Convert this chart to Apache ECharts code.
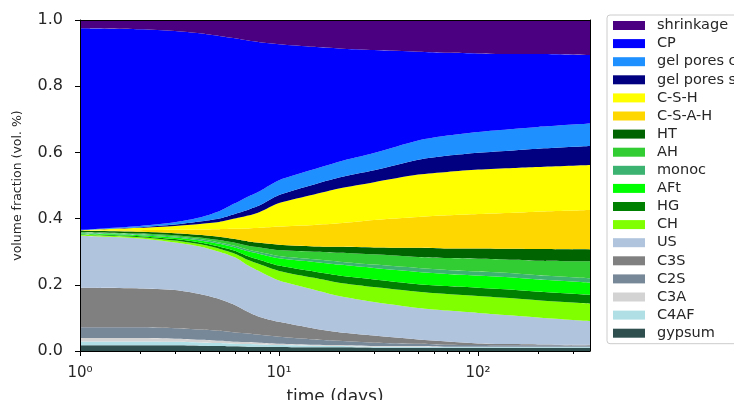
<!DOCTYPE html>
<html>
<head>
<meta charset="utf-8">
<script src="https://cdn.jsdelivr.net/npm/echarts@6/dist/echarts.min.js"></script>
<style>html,body{margin:0;padding:0;background:#fff;}#c{width:734px;height:400px;}</style>
</head>
<body>
<div id="c"></div>
<script>
// time (days)
const times = [1,2,3,4,5,6,7,8,10,15,20,30,50,70,100,150,200,365];
// volume fractions per phase (bottom of stack first)
const gypsum = [.017,.017,.017,.016,.015,.014,.013,.013,.012,.011,.011,.010,.010,.010,.010,.010,.010,.010];
const C4AF   = [.012,.012,.011,.010,.009,.008,.008,.007,.006,.005,.004,.003,.003,.002,.002,.002,.002,.002];
const C3A    = [.010,.010,.009,.008,.007,.006,.006,.005,.004,.003,.003,.002,.002,.001,.001,.001,.001,.001];
const C2S    = [.033,.033,.032,.031,.030,.028,.026,.024,.021,.016,.013,.010,.007,.006,.005,.004,.004,.003];
const C3S    = [.119,.117,.115,.107,.096,.083,.065,.054,.045,.033,.026,.022,.013,.010,.005,.004,.003,.003];
const US     = [.157,.151,.144,.144,.143,.144,.140,.137,.125,.117,.109,.101,.095,.093,.092,.086,.081,.071];
const CH     = [.003,.004,.006,.007,.009,.011,.017,.022,.029,.036,.040,.045,.049,.050,.051,.052,.052,.053];
const HG     = [.002,.003,.004,.005,.007,.009,.011,.013,.016,.019,.022,.023,.023,.024,.025,.026,.026,.027];
const AFt    = [.002,.003,.005,.006,.008,.010,.015,.018,.022,.029,.033,.035,.037,.037,.037,.037,.037,.037];
const monoc  = [.002,.002,.003,.004,.004,.005,.005,.006,.007,.008,.009,.010,.012,.012,.012,.013,.013,.013];
const AH     = [.002,.003,.004,.005,.007,.009,.012,.014,.018,.023,.027,.031,.033,.036,.039,.041,.044,.051];
const HT     = [.004,.005,.006,.008,.010,.011,.013,.014,.016,.016,.018,.021,.028,.029,.031,.033,.035,.036];
const CSAH   = [.001,.005,.010,.016,.023,.031,.039,.045,.055,.065,.071,.083,.093,.100,.104,.109,.113,.119];
const CSH    = [.001,.007,.012,.017,.022,.031,.039,.048,.071,.092,.105,.114,.128,.131,.134,.135,.135,.136];
const gelS   = [.000,.002,.004,.007,.010,.014,.018,.020,.024,.030,.033,.036,.045,.049,.051,.053,.055,.057];
const gelC   = [.001,.004,.007,.012,.022,.032,.040,.043,.045,.046,.048,.052,.058,.061,.063,.065,.066,.068];
const CP     = [.609,.594,.578,.557,.530,.499,.471,.450,.411,.370,.342,.311,.268,.250,.237,.226,.220,.207];
const shrinkage = [.025,.028,.033,.040,.048,.055,.062,.067,.073,.081,.086,.091,.096,.099,.101,.103,.104,.106];

const majorTicks = [1,10,100];
const majorLabels = {1:'10\u2070',10:'10\u00b9',100:'10\u00b2'};
const minorTicks = [2,3,4,5,6,7,8,9,20,30,40,50,60,70,80,90,200,300];

const layers = [
  ['gypsum', gypsum, '#2F4F4F'],
  ['C4AF', C4AF, '#B0E0E6'],
  ['C3A', C3A, '#D3D3D3'],
  ['C2S', C2S, '#778899'],
  ['C3S', C3S, '#808080'],
  ['US', US, '#B0C4DE'],
  ['CH', CH, '#7FFF00'],
  ['HG', HG, '#008000'],
  ['AFt', AFt, '#00FF00'],
  ['monoc', monoc, '#3CB371'],
  ['AH', AH, '#32CD32'],
  ['HT', HT, '#006400'],
  ['C-S-A-H', CSAH, '#FFD700'],
  ['C-S-H', CSH, '#FFFF00'],
  ['gel pores saturated', gelS, '#000080'],
  ['gel pores capillary', gelC, '#1E90FF'],
  ['CP', CP, '#0000FF'],
  ['shrinkage', shrinkage, '#4B0082']
];

const FONT = 'DejaVu Sans';
const TXT = '#262626';

// data rows are [value, time]; encode maps time to x and value to y so the value is stacked
const series = layers.map(([name, vals, color]) => ({
  name: name,
  type: 'line',
  stack: 'total',
  stackStrategy: 'all',
  xAxisIndex: 0,
  yAxisIndex: 0,
  data: times.map((t, i) => [vals[i], t]),
  encode: { x: 1, y: 0 },
  showSymbol: false,
  symbol: 'none',
  smooth: 0.25,
  lineStyle: { width: 0 },
  itemStyle: { color: color },
  areaStyle: { color: color, opacity: 1 },
  emphasis: { disabled: true },
  animation: false
}));

const chart = echarts.init(document.getElementById('c'), null, { renderer: 'canvas' });
chart.setOption({
  animation: false,
  backgroundColor: '#fff',
  textStyle: { fontFamily: FONT },
  grid: { left: 80, right: 144, top: 20, bottom: 49, containLabel: false, outerBoundsMode: 'none' },
  xAxis: [
    {
      type: 'log', logBase: 10, min: 1, max: 365, position: 'bottom', z: 10,
      axisLine: { show: true, onZero: false, lineStyle: { color: '#000', width: 1 } },
      axisTick: { show: true, length: 5, customValues: majorTicks, lineStyle: { color: '#000', width: 1 } },
      axisLabel: { customValues: majorTicks, formatter: v => majorLabels[Math.round(v)] || '', fontSize: 15, color: TXT, margin: 15, fontFamily: FONT },
      splitLine: { show: false },
      name: 'time (days)', nameLocation: 'middle', nameGap: 38,
      nameTextStyle: { fontSize: 17, color: TXT, fontFamily: FONT }
    },
    {
      type: 'log', logBase: 10, min: 1, max: 365, position: 'bottom', z: 10,
      axisLine: { show: false },
      axisTick: { show: true, length: 3, customValues: minorTicks, lineStyle: { color: '#000', width: 1 } },
      axisLabel: { show: false },
      splitLine: { show: false }
    },
    {
      type: 'log', logBase: 10, min: 1, max: 365, position: 'top', z: 10,
      axisLine: { show: true, onZero: false, lineStyle: { color: '#000', width: 1 } },
      axisTick: { show: false }, axisLabel: { show: false }, splitLine: { show: false }
    }
  ],
  yAxis: [
    {
      type: 'value', min: 0, max: 1, interval: 0.2, position: 'left', z: 10,
      axisLine: { show: true, onZero: false, lineStyle: { color: '#000', width: 1 } },
      axisTick: { show: true, length: 5, lineStyle: { color: '#000', width: 1 } },
      axisLabel: { formatter: v => v.toFixed(1), fontSize: 16, color: TXT, margin: 17, fontFamily: FONT },
      splitLine: { show: false },
      name: 'volume fraction (vol. %)', nameLocation: 'middle', nameGap: 56, nameRotate: 90,
      nameTextStyle: { fontSize: 12.5, color: TXT, fontFamily: FONT }
    },
    {
      type: 'value', min: 0, max: 1, position: 'right', z: 10,
      axisLine: { show: true, onZero: false, lineStyle: { color: '#000', width: 1 } },
      axisTick: { show: false }, axisLabel: { show: false }, splitLine: { show: false }
    }
  ],
  legend: {
    orient: 'vertical', left: 607, top: 15,
    padding: [3, 6, 3, 6],
    itemWidth: 32, itemHeight: 9, itemGap: 3.1,
    icon: 'rect',
    selectedMode: false,
    backgroundColor: '#fff', borderColor: '#cccccc', borderWidth: 1, borderRadius: 3,
    textStyle: { fontSize: 14.5, color: TXT, fontFamily: FONT, lineHeight: 14, padding: [0, 0, 0, 7] },
    data: layers.map(l => l[0]).reverse()
  },
  series: series
});
</script>
</body>
</html>
